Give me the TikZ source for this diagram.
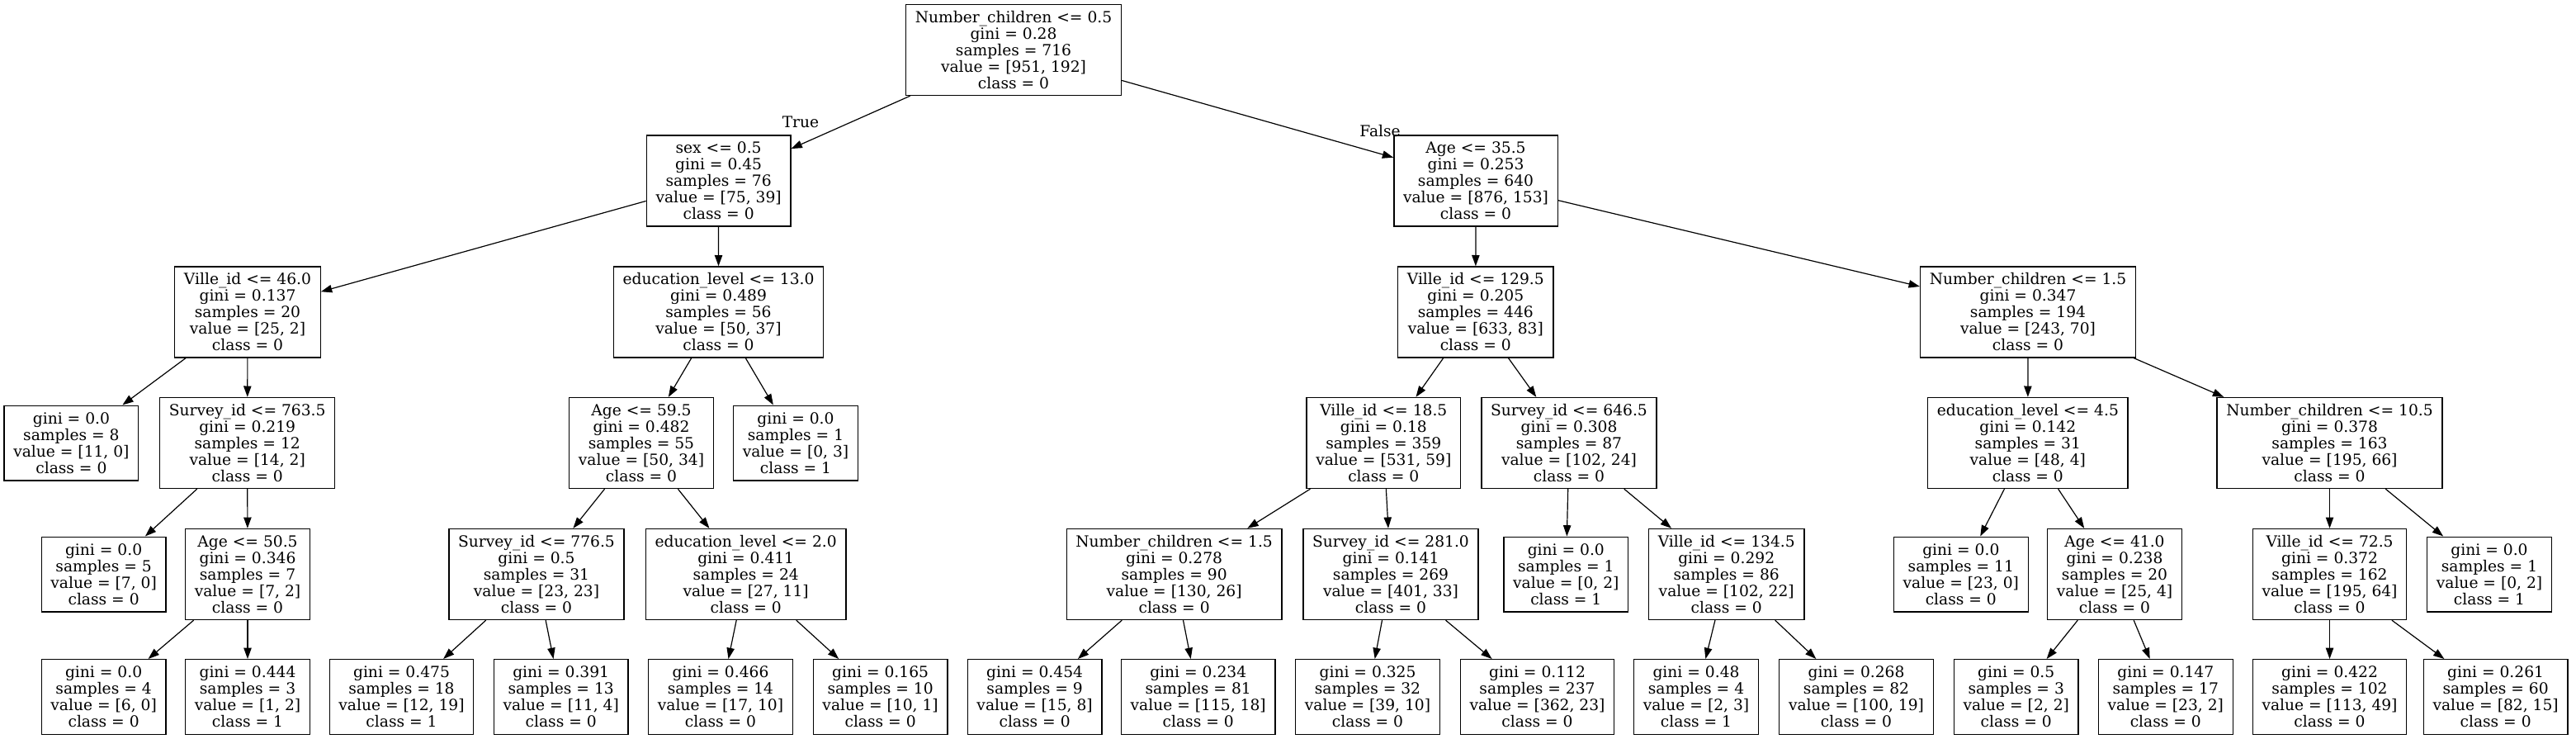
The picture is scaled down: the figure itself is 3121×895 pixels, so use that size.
\documentclass[tikz,border=0pt]{standalone}
\usepackage{fontspec}
\setmainfont{DejaVu Serif}
\usetikzlibrary{arrows.meta}
\newcommand{\dtsplit}[5]{#1\\gini = #2\\samples = #3\\value = [#4]\\class = #5}
\newcommand{\dtleaf}[4]{gini = #1\\samples = #2\\value = [#3]\\class = #4}

\begin{document}
\begin{tikzpicture}[x=0.75pt, y=-0.75pt, line width=0.9pt, >={Triangle[length=10pt,width=7pt]},
  font=\fontsize{14}{15}\selectfont,
  dsplit/.style={draw, line width=1pt, align=center, inner xsep=8.4pt, inner ysep=2pt, minimum height=82.5pt, font=\fontsize{14}{15}\selectfont},
  dleaf/.style={dsplit, minimum height=68pt}]
\fill[white] (0,0) rectangle (3121,895);

% rank 0 and 1
\node[dsplit] (n0) at (1228,60.5) {\dtsplit{Number\_children <= 0.5}{0.28}{716}{951, 192}{0}};
\node[dsplit] (n1) at (870.6,219) {\dtsplit{sex <= 0.5}{0.45}{76}{75, 39}{0}};
\node[dsplit] (n2) at (1788,219) {\dtsplit{Age <= 35.5}{0.253}{640}{876, 153}{0}};
\node (tlab) at (970,148) {True};
\node (flab) at (1672,159) {False};

% rank 2
\node[dsplit] (n3) at (300,378) {\dtsplit{Ville\_id <= 46.0}{0.137}{20}{25, 2}{0}};
\node[dsplit] (n4) at (870.5,378) {\dtsplit{education\_level <= 13.0}{0.489}{56}{50, 37}{0}};
\node[dsplit] (n5) at (1787.8,378) {\dtsplit{Ville\_id <= 129.5}{0.205}{446}{633, 83}{0}};
\node[dsplit] (n6) at (2457,378) {\dtsplit{Number\_children <= 1.5}{0.347}{194}{243, 70}{0}};

% rank 3
\node[dleaf] (n7) at (86.4,536.5) {\dtleaf{0.0}{8}{11, 0}{0}};
\node[dsplit] (n8) at (299.7,536.5) {\dtsplit{Survey\_id <= 763.5}{0.219}{12}{14, 2}{0}};
\node[dsplit] (n9) at (777,536.5) {\dtsplit{Age <= 59.5}{0.482}{55}{50, 34}{0}};
\node[dleaf] (n10) at (964,536.5) {\dtleaf{0.0}{1}{0, 3}{1}};
\node[dsplit] (n11) at (1676.3,536.5) {\dtsplit{Ville\_id <= 18.5}{0.18}{359}{531, 59}{0}};
\node[dsplit] (n12) at (1901,536.5) {\dtsplit{Survey\_id <= 646.5}{0.308}{87}{102, 24}{0}};
\node[dsplit] (n13) at (2456.8,536.5) {\dtsplit{education\_level <= 4.5}{0.142}{31}{48, 4}{0}};
\node[dsplit] (n14) at (2822.5,536.5) {\dtsplit{Number\_children <= 10.5}{0.378}{163}{195, 66}{0}};

% rank 4
\node[dleaf] (n15) at (125.6,695.5) {\dtleaf{0.0}{5}{7, 0}{0}};
\node[dsplit] (n16) at (300,695.5) {\dtsplit{Age <= 50.5}{0.346}{7}{7, 2}{0}};
\node[dsplit] (n17) at (650,695.5) {\dtsplit{Survey\_id <= 776.5}{0.5}{31}{23, 23}{0}};
\node[dsplit] (n18) at (903.7,695.5) {\dtsplit{education\_level <= 2.0}{0.411}{24}{27, 11}{0}};
\node[dsplit] (n19) at (1422.6,695.5) {\dtsplit{Number\_children <= 1.5}{0.278}{90}{130, 26}{0}};
\node[dsplit] (n20) at (1685,695.5) {\dtsplit{Survey\_id <= 281.0}{0.141}{269}{401, 33}{0}};
\node[dleaf] (n21) at (1897.3,695.5) {\dtleaf{0.0}{1}{0, 2}{1}};
\node[dsplit] (n22) at (2091.7,695.5) {\dtsplit{Ville\_id <= 134.5}{0.292}{86}{102, 22}{0}};
\node[dleaf] (n23) at (2375.8,695.5) {\dtleaf{0.0}{11}{23, 0}{0}};
\node[dsplit] (n24) at (2562,695.5) {\dtsplit{Age <= 41.0}{0.238}{20}{25, 4}{0}};
\node[dsplit] (n25) at (2822.5,695.5) {\dtsplit{Ville\_id <= 72.5}{0.372}{162}{195, 64}{0}};
\node[dleaf] (n26) at (3016,695.5) {\dtleaf{0.0}{1}{0, 2}{1}};

% rank 5
\node[dleaf] (n27) at (125.6,844) {\dtleaf{0.0}{4}{6, 0}{0}};
\node[dleaf] (n28) at (300,844) {\dtleaf{0.444}{3}{1, 2}{1}};
\node[dleaf] (n29) at (486.5,844) {\dtleaf{0.475}{18}{12, 19}{1}};
\node[dleaf] (n30) at (679.7,844) {\dtleaf{0.391}{13}{11, 4}{0}};
\node[dleaf] (n31) at (873,844) {\dtleaf{0.466}{14}{17, 10}{0}};
\node[dleaf] (n32) at (1066.6,844) {\dtleaf{0.165}{10}{10, 1}{0}};
\node[dleaf] (n33) at (1253.6,844) {\dtleaf{0.454}{9}{15, 8}{0}};
\node[dleaf] (n34) at (1451.7,844) {\dtleaf{0.234}{81}{115, 18}{0}};
\node[dleaf] (n35) at (1657,844) {\dtleaf{0.325}{32}{39, 10}{0}};
\node[dleaf] (n36) at (1862.5,844) {\dtleaf{0.112}{237}{362, 23}{0}};
\node[dleaf] (n37) at (2055,844) {\dtleaf{0.48}{4}{2, 3}{1}};
\node[dleaf] (n38) at (2249,844) {\dtleaf{0.268}{82}{100, 19}{0}};
\node[dleaf] (n39) at (2442.7,844) {\dtleaf{0.5}{3}{2, 2}{0}};
\node[dleaf] (n40) at (2623.8,844) {\dtleaf{0.147}{17}{23, 2}{0}};
\node[dleaf] (n41) at (2822.5,844) {\dtleaf{0.422}{102}{113, 49}{0}};
\node[dleaf] (n42) at (3023.6,844) {\dtleaf{0.261}{60}{82, 15}{0}};

%
\draw[->] (n0) -- (n1);
\draw[->] (n0) -- (n2);
\draw[->] (n1) -- (n3);
\draw[->] (n1) -- (n4);
\draw[->] (n2) -- (n5);
\draw[->] (n2) -- (n6);
\draw[->] (n3) -- (n7);
\draw[->] (n3) -- (n8);
\draw[->] (n4) -- (n9);
\draw[->] (n4) -- (n10);
\draw[->] (n5) -- (n11);
\draw[->] (n5) -- (n12);
\draw[->] (n6) -- (n13);
\draw[->] (n6) -- (n14);
\draw[->] (n8) -- (n15);
\draw[->] (n8) -- (n16);
\draw[->] (n9) -- (n17);
\draw[->] (n9) -- (n18);
\draw[->] (n11) -- (n19);
\draw[->] (n11) -- (n20);
\draw[->] (n12) -- (n21);
\draw[->] (n12) -- (n22);
\draw[->] (n13) -- (n23);
\draw[->] (n13) -- (n24);
\draw[->] (n14) -- (n25);
\draw[->] (n14) -- (n26);
\draw[->] (n16) -- (n27);
\draw[->] (n16) -- (n28);
\draw[->] (n17) -- (n29);
\draw[->] (n17) -- (n30);
\draw[->] (n18) -- (n31);
\draw[->] (n18) -- (n32);
\draw[->] (n19) -- (n33);
\draw[->] (n19) -- (n34);
\draw[->] (n20) -- (n35);
\draw[->] (n20) -- (n36);
\draw[->] (n22) -- (n37);
\draw[->] (n22) -- (n38);
\draw[->] (n24) -- (n39);
\draw[->] (n24) -- (n40);
\draw[->] (n25) -- (n41);
\draw[->] (n25) -- (n42);

\end{tikzpicture}
\end{document}
